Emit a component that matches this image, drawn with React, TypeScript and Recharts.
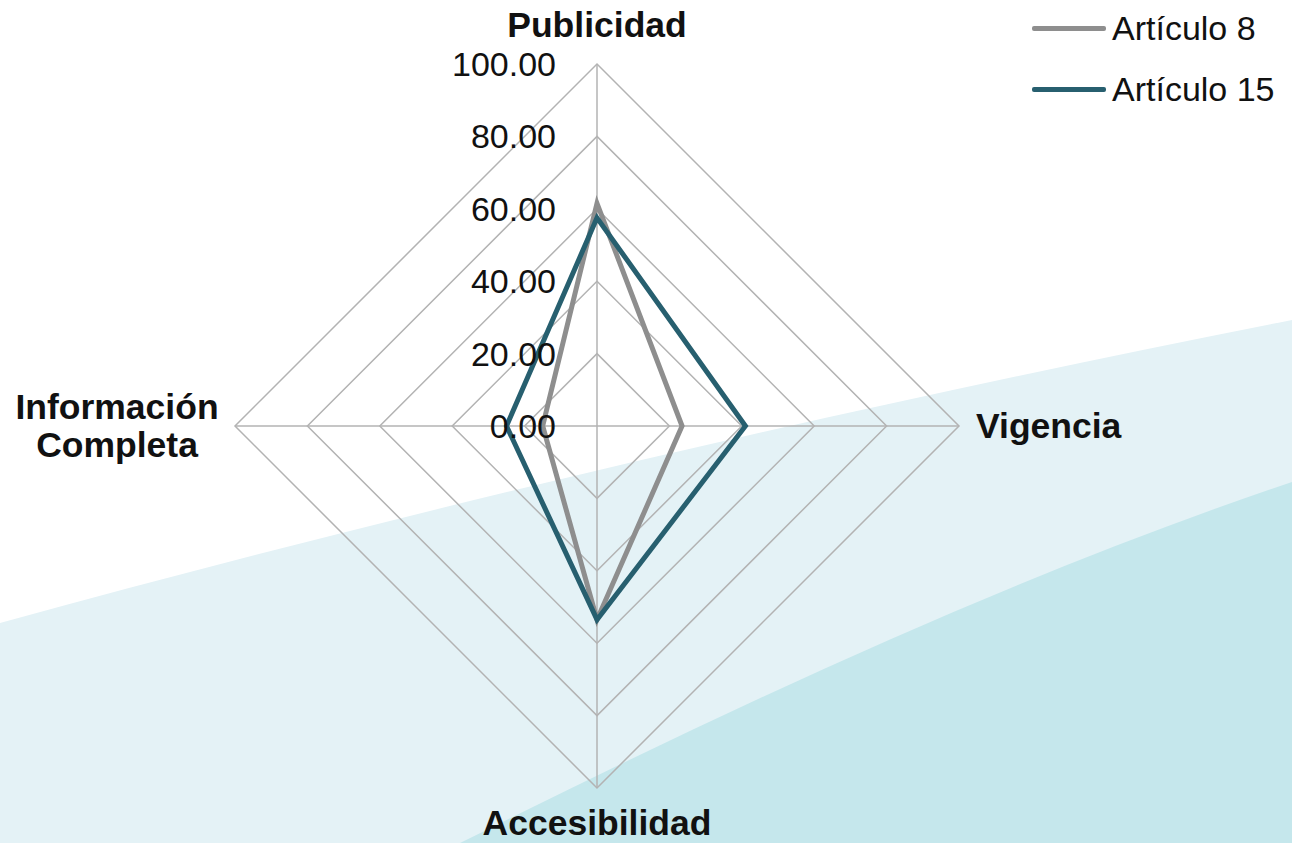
import { RadarChart, Radar, PolarGrid, PolarAngleAxis, PolarRadiusAxis, Legend } from 'recharts';

const categories = ['Publicidad', 'Vigencia', 'Accesibilidad', 'Información Completa'];
const articulo8 = [61.5, 23.5, 53.5, 15.0];
const articulo15 = [57.5, 41.0, 53.5, 25.0];
const radiusTicks = [0, 20, 40, 60, 80, 100];

const data = categories.map((c, i) => ({ axis: c, a8: articulo8[i], a15: articulo15[i] }));

const FONT = '"Liberation Sans", Arial, sans-serif';
const GRAY = '#8e8e8e';
const TEAL = '#275f6f';

function AngleTick(props: any) {
  const { x, y, payload } = props;
  const v: string = payload.value;
  const style = { fontFamily: FONT, fontWeight: 700, fontSize: 35.5, fill: '#111' };
  if (v === 'Publicidad') {
    return <text x={x} y={y - 31} textAnchor="middle" dominantBaseline="central" {...style}>{v}</text>;
  }
  if (v === 'Vigencia') {
    return <text x={x + 9} y={y} textAnchor="start" dominantBaseline="central" {...style}>{v}</text>;
  }
  if (v === 'Accesibilidad') {
    return <text x={x} y={y + 27} textAnchor="middle" dominantBaseline="central" {...style}>{v}</text>;
  }
  const parts = v.split(' ');
  return (
    <text x={x - 110} y={y} textAnchor="middle" {...style}>
      <tspan x={x - 110} y={y - 19} dominantBaseline="central">{parts[0]}</tspan>
      <tspan x={x - 110} y={y + 19} dominantBaseline="central">{parts[1]}</tspan>
    </text>
  );
}

function RadiusTick(props: any) {
  const { x, y, payload } = props;
  return (
    <text x={x - 41} y={y} textAnchor="end" dominantBaseline="central"
      style={{ fontFamily: FONT, fontSize: 34, fill: '#111' }}>
      {Number(payload.value).toFixed(2)}
    </text>
  );
}

function LegendBox() {
  const items = [
    { name: 'Artículo 8', color: GRAY },
    { name: 'Artículo 15', color: TEAL },
  ];
  return (
    <div style={{ fontFamily: FONT }}>
      {items.map(it => (
        <div key={it.name} style={{ display: 'flex', alignItems: 'center', height: 61 }}>
          <div style={{ width: 74, height: 5, background: it.color, borderRadius: 2, marginRight: 6 }} />
          <span style={{ fontSize: 34, color: '#111' }}>{it.name}</span>
        </div>
      ))}
    </div>
  );
}

export default function App() {
  return (
    <div style={{ position: 'absolute', left: 0, top: 0, width: 1292, height: 843, background: '#fff', overflow: 'hidden' }}>
      <svg width={1292} height={843} style={{ position: 'absolute', left: 0, top: 0 }}>
        <path d="M0,623 C430,505 860,405 1292,320 L1292,843 L0,843 Z" fill="#e4f2f6" />
        <path d="M460,843 C737,705 1015,575 1292,482 L1292,843 Z" fill="#c5e7ec" />
      </svg>
      <div style={{ position: 'absolute', left: 0, top: 0 }}>
        <RadarChart width={1292} height={843} data={data} cx={597} cy={426} outerRadius={362}
          margin={{ top: 0, right: 0, bottom: 0, left: 0 }}>
          <PolarGrid gridType="polygon" stroke="#b3b3b3" strokeWidth={1.5} />
          <PolarAngleAxis dataKey="axis" tick={<AngleTick />} tickLine={false} axisLine={false} />
          <PolarRadiusAxis angle={90} domain={[0, 100]} ticks={radiusTicks as any} tickCount={6}
            axisLine={false} tickLine={false} tick={<RadiusTick />} />
          <Radar name="Artículo 8" dataKey="a8" stroke={GRAY} strokeWidth={5} fill="none" fillOpacity={0}
            isAnimationActive={false} />
          <Radar name="Artículo 15" dataKey="a15" stroke={TEAL} strokeWidth={5} fill="none" fillOpacity={0}
            isAnimationActive={false} />
          <Legend layout="vertical" align="right" verticalAlign="top" content={<LegendBox />}
            wrapperStyle={{ position: 'absolute', left: 1032, top: -2, width: 260 }} />
        </RadarChart>
      </div>
    </div>
  );
}
